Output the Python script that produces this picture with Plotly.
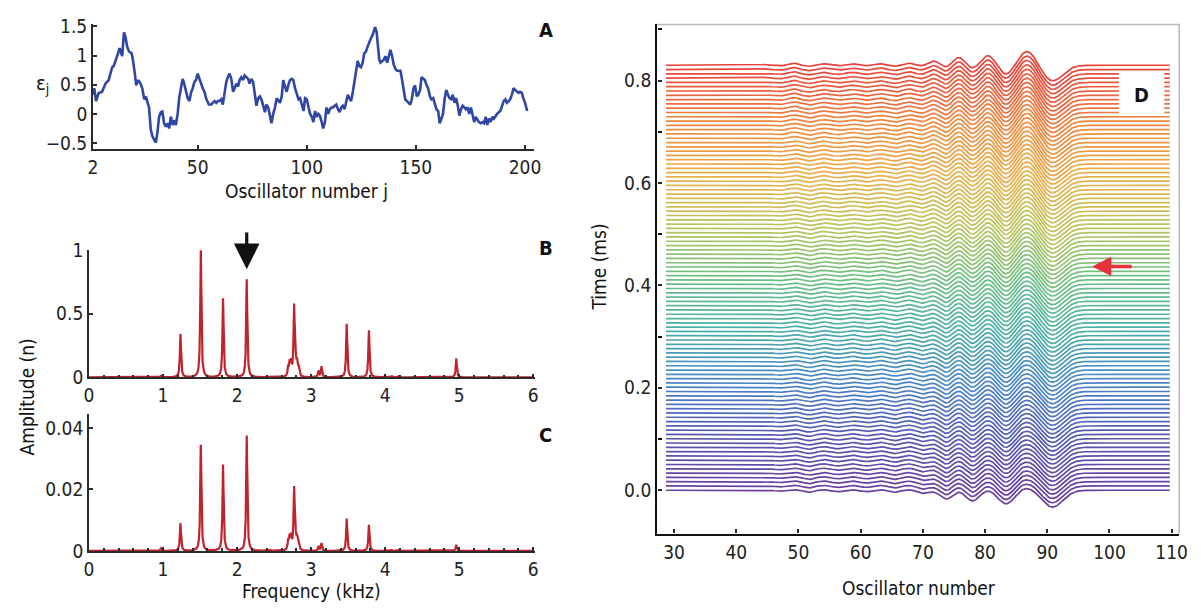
import numpy as np
import plotly.graph_objects as go
from plotly.colors import sample_colorscale

W, H = 1201, 615
FONT = "DejaVu Sans Condensed, Liberation Sans Narrow, Arial Narrow, Roboto, sans-serif"
AX = "#2b2b2b"

# ---------------- Panel A data: epsilon_j vs oscillator j ----------------
osc_j = [2.0, 2.6, 3.4, 4.6, 6.2, 7.7, 9.2, 10.0, 10.8, 11.5, 12.3, 13.1, 13.5, 14.2, 14.8, 15.4, 16.2, 16.9,
         17.7, 18.5, 19.7, 20.3, 21.2, 21.8, 22.8, 23.8, 24.6, 25.5, 26.2, 26.9, 27.7, 28.5, 29.2, 30.0, 30.8,
         31.5, 32.3, 33.1, 33.8, 34.6, 35.4, 36.2, 36.9, 37.7, 38.5, 39.2, 40.0, 40.8, 41.5, 42.3, 43.1, 43.8,
         44.6, 45.4, 46.2, 46.9, 47.7, 48.5, 49.2, 50.0, 50.8, 51.5, 52.3, 53.1, 53.8, 55.1, 56.2, 56.9, 57.7,
         58.5, 59.2, 60.0, 60.8, 61.5, 62.3, 63.1, 63.8, 64.6, 65.4, 66.2, 66.9, 67.7, 68.5, 69.2, 70.0, 70.8,
         71.5, 72.3, 73.1, 73.8, 74.6, 75.4, 76.2, 76.9, 77.7, 78.5, 79.2, 80.0, 80.8, 81.5, 82.3, 83.1, 83.8,
         84.6, 85.4, 86.2, 86.9, 87.7, 88.5, 89.2, 90.0, 90.8, 91.5, 92.3, 93.1, 93.8, 94.6, 95.4, 96.2, 96.9,
         97.7, 98.5, 99.2, 100.0, 100.8, 101.5, 102.3, 103.0, 103.8, 104.5, 105.3, 106.0, 106.8, 107.5, 108.3,
         109.0, 109.8, 110.5, 111.3, 112.0, 112.8, 113.5, 114.3, 115.0, 115.8, 116.5, 117.3, 118.0, 118.8,
         119.5, 120.3, 121.1, 121.8, 122.6, 123.3, 124.1, 124.8, 125.6, 126.3, 127.1, 127.8, 128.6, 129.3,
         130.1, 130.8, 131.3, 132.0, 132.6, 133.2, 133.8, 134.6, 135.3, 136.1, 136.8, 137.6, 138.3, 139.1,
         139.8, 140.6, 141.4, 142.1, 142.9, 143.6, 144.4, 145.1, 145.9, 146.6, 147.4, 148.1, 148.9, 149.6,
         150.4, 151.1, 151.9, 152.6, 153.4, 154.1, 154.9, 155.6, 156.4, 157.1, 157.9, 158.6, 159.4, 160.2,
         160.9, 161.7, 162.4, 163.2, 163.9, 164.7, 165.4, 166.2, 166.9, 167.7, 168.4, 169.2, 169.9, 170.7,
         171.4, 172.2, 172.9, 173.7, 174.4, 175.2, 175.9, 176.7, 177.4, 178.2, 178.9, 179.7, 180.5, 181.2,
         182.0, 182.7, 183.5, 184.2, 185.0, 185.7, 186.5, 187.2, 188.0, 188.7, 189.5, 190.2, 191.0, 191.7,
         192.5, 193.2, 194.0, 194.7, 195.5, 196.2, 197.0, 197.7, 198.5, 199.2, 200.0, 201.0]
eps_j = [0.33, 0.44, 0.22, 0.36, 0.38, 0.52, 0.58, 0.69, 0.80, 0.82, 0.91, 0.96, 1.04, 1.13, 1.04, 0.99, 1.40, 1.32,
         1.15, 1.07, 1.04, 0.93, 0.69, 0.49, 0.58, 0.52, 0.44, 0.25, 0.30, 0.22, 0.11, -0.27, -0.38, -0.44, -0.49,
         -0.33, -0.05, 0.03, 0.04, -0.16, -0.22, -0.16, -0.25, -0.05, -0.19, -0.11, -0.19, 0.0, 0.27, 0.44, 0.60, 0.52,
         0.38, 0.27, 0.22, 0.36, 0.44, 0.55, 0.58, 0.69, 0.60, 0.52, 0.44, 0.38, 0.27, 0.16, 0.16, 0.19, 0.22,
         0.19, 0.22, 0.22, 0.25, 0.16, 0.36, 0.55, 0.63, 0.69, 0.60, 0.38, 0.44, 0.52, 0.47, 0.58, 0.63, 0.58,
         0.66, 0.63, 0.60, 0.52, 0.60, 0.55, 0.33, 0.14, 0.27, 0.30, 0.25, 0.11, 0.03, 0.16, 0.11, -0.03, -0.16,
         0.0, 0.11, 0.27, 0.22, 0.19, 0.30, 0.58, 0.47, 0.38, 0.49, 0.58, 0.60, 0.58, 0.44, 0.36, 0.25, 0.27,
         0.14, 0.05, 0.27, 0.25, 0.11, 0.0, -0.05, -0.14, 0.05, -0.05, 0.0, -0.03, -0.14, -0.25, -0.14,
         0.11, 0.0, 0.08, 0.11, 0.11, 0.14, 0.16, 0.08, 0.03, 0.11, 0.14, 0.08, 0.22, 0.33,
         0.27, 0.22, 0.38, 0.52, 0.74, 0.91, 0.82, 0.80, 0.88, 1.04, 1.07, 1.15, 1.24, 1.29,
         1.35, 1.43, 1.49, 1.40, 1.15, 0.93, 0.88, 0.91, 0.93, 0.99, 0.88, 0.99, 1.10, 0.99,
         0.85, 0.77, 0.74, 0.74, 0.74, 0.60, 0.41, 0.25, 0.22, 0.19, 0.16, 0.25, 0.44, 0.49,
         0.30, 0.33, 0.41, 0.63, 0.60, 0.58, 0.49, 0.44, 0.30, 0.25, 0.27, 0.16, 0.08, 0.05,
         -0.16, -0.08, 0.0, 0.27, 0.41, 0.33, 0.27, 0.25, 0.33, 0.19, 0.27, 0.14, -0.03, 0.08,
         0.14, 0.11, 0.08, 0.11, 0.0, 0.11, -0.03, -0.14, -0.05, -0.11, -0.14, -0.16, -0.14, -0.16,
         -0.05, -0.19, -0.08, -0.14, -0.05, -0.08, -0.03, 0.0, 0.03, 0.05, 0.14, 0.22, 0.25, 0.19,
         0.22, 0.25, 0.33, 0.44, 0.41, 0.38, 0.36, 0.38, 0.36, 0.27, 0.19, 0.05]
a_xticks = [2, 50, 100, 150, 200]
a_yticks = [-0.5, 0, 0.5, 1, 1.5]
a_yticktext = ["\u22120.5", "0", "0.5", "1", "1.5"]

# ---------------- Panels B/C data: spectral peaks ----------------
peak_khz = [0.97, 1.235, 1.51, 1.81, 2.13, 2.45, 2.69, 2.71, 2.73, 2.77, 2.79, 2.81, 2.83, 3.10, 3.14, 3.48, 3.78, 4.09, 4.18, 4.96]
peak_amp_b = [0.012, 0.34, 1.0, 0.62, 0.77, 0.006, 0.07, 0.10, 0.10, 0.55, 0.10, 0.10, 0.06, 0.05, 0.085, 0.42, 0.37, 0.01, 0.01, 0.15]
peak_amp_c = [0.0008, 0.009, 0.0345, 0.028, 0.0375, 0.0003, 0.003, 0.004, 0.004, 0.020, 0.0035, 0.0035, 0.002, 0.0015, 0.0025, 0.0105, 0.0085, 0.0003, 0.0003, 0.002]
peak_halfwidth_khz = 0.009
b_yticks = [0, 0.5, 1]
c_yticks = [0, 0.02, 0.04]
bc_xticks = [0, 1, 2, 3, 4, 5, 6]

# ---------------- Panel D data: waterfall of displacement profiles ----------------
# profile features (oscillator position, width, amplitude on first and last time line, in ms units)
feat_x = [44.5, 46.9, 49.3, 51.7, 54.0, 56.3, 58.6, 60.9, 63.2, 65.5, 67.8, 70.0,
          71.8, 73.8, 75.8, 78.0, 80.5, 83.4, 86.8, 90.8]
feat_w = [0.7, 0.7, 0.7, 0.75, 0.75, 0.75, 0.75, 0.75, 0.8, 0.8, 0.85, 0.85,
          0.95, 1.0, 1.05, 1.1, 1.2, 1.3, 1.5, 1.7]
feat_amp_t0 = [0.0005, -0.002, 0.001, -0.004, 0.001, -0.003, 0.001, -0.003, 0.001, -0.004, 0.001, -0.006,
               -0.001, -0.017, 0.001, -0.021, 0.002, -0.027, 0.006, -0.033]
feat_amp_t1 = [0.0015, -0.001, 0.004, -0.002, 0.003, -0.001, 0.003, -0.001, 0.003, -0.002, 0.004, -0.002,
               0.009, -0.006, 0.017, -0.009, 0.021, -0.020, 0.029, -0.031]
n_lines = 100
t_first, t_last = 0.0, 0.83
line_x_start, line_x_end = 28.7, 109.7
d_xticks = [30, 40, 50, 60, 70, 80, 90, 100, 110]
d_yticks = [0.0, 0.2, 0.4, 0.6, 0.8]
d_colors = [[0.0, "#6b3d9f"], [0.13, "#5458b2"], [0.26, "#4985c8"], [0.38, "#4aaea6"],
            [0.5, "#6cbf82"], [0.62, "#b9c45c"], [0.74, "#e9b04a"], [0.86, "#f0883e"], [1.0, "#e8403a"]]


def dom_x(x0, x1):
    return [x0 / W, x1 / W]


def dom_y(top, bottom):
    return [1 - bottom / H, 1 - top / H]


fig = go.Figure()

# Panel A
fig.add_trace(go.Scatter(x=osc_j, y=eps_j, mode="lines", line=dict(color="#2f46a3", width=2.6),
                         xaxis="x", yaxis="y", showlegend=False, hoverinfo="skip"))

# Panels B and C
f = np.linspace(0, 6, 6001)


def spectrum(amps):
    s = np.zeros_like(f)
    for f0, a in zip(peak_khz, amps):
        s += a / (1 + ((f - f0) / peak_halfwidth_khz) ** 2)
    return s


fig.add_trace(go.Scatter(x=f, y=spectrum(peak_amp_b), mode="lines", line=dict(color="#c0232c", width=2.2),
                         xaxis="x2", yaxis="y2", showlegend=False, hoverinfo="skip"))
fig.add_trace(go.Scatter(x=f, y=spectrum(peak_amp_c), mode="lines", line=dict(color="#c0232c", width=2.2),
                         xaxis="x3", yaxis="y3", showlegend=False, hoverinfo="skip"))

# Panel D
xs = np.linspace(line_x_start, line_x_end, 811)
times = np.linspace(t_first, t_last, n_lines)
cols = sample_colorscale(d_colors, list((times - t_first) / (t_last - t_first)))
for k, t in enumerate(times):
    frac = (t - t_first) / (t_last - t_first)
    y = np.full_like(xs, t)
    for c, w, a0, a1 in zip(feat_x, feat_w, feat_amp_t0, feat_amp_t1):
        a = a0 + (a1 - a0) * frac
        y += a * np.exp(-0.5 * ((xs - c) / w) ** 2)
    fig.add_trace(go.Scatter(x=xs, y=y, mode="lines", line=dict(color=cols[k], width=1.7),
                             xaxis="x4", yaxis="y4", showlegend=False, hoverinfo="skip"))

tickfont = dict(family=FONT, size=19, color="#222")
common = dict(showgrid=False, zeroline=False, showline=True, linecolor=AX, linewidth=1.8,
              ticks="inside", tickcolor=AX, ticklen=4, tickwidth=1.5, tickfont=tickfont)

A_box = (89, 535, 13, 143)
B_box = (85, 536, 248, 380)
C_box = (85, 536, 418, 560)
D_box = (660, 1188, 14, 542)

fig.update_layout(
    width=W, height=H, margin=dict(l=0, r=0, t=0, b=0),
    paper_bgcolor="white", plot_bgcolor="rgba(0,0,0,0)",
    xaxis=dict(domain=dom_x(A_box[0], A_box[1]), range=[2, 204], tickvals=a_xticks, anchor="y", **common),
    yaxis=dict(domain=dom_y(A_box[2], A_box[3]), range=[-0.6, 1.55], tickvals=a_yticks,
               ticktext=a_yticktext, anchor="x", **common),
    xaxis2=dict(domain=dom_x(B_box[0], B_box[1]), range=[0, 6.02], tickvals=bc_xticks, anchor="y2",
                minor=dict(dtick=0.2, ticks="inside", ticklen=3, tickcolor=AX), **common),
    yaxis2=dict(domain=dom_y(B_box[2], B_box[3]), range=[0, 1.0], tickvals=b_yticks,
                ticktext=["0", "0.5", "1"], anchor="x2", **common),
    xaxis3=dict(domain=dom_x(C_box[0], C_box[1]), range=[0, 6.02], tickvals=bc_xticks, anchor="y3",
                minor=dict(dtick=0.2, ticks="inside", ticklen=3, tickcolor=AX), **common),
    yaxis3=dict(domain=dom_y(C_box[2], C_box[3]), range=[0, 0.0445], tickvals=c_yticks,
                ticktext=["0", "0.02", "0.04"], anchor="x3", **common),
    xaxis4=dict(domain=dom_x(D_box[0], D_box[1]), range=[27.3, 111.2], tickvals=d_xticks, anchor="y4",
                **{**common, "linecolor": "#111", "linewidth": 2.4}),
    yaxis4=dict(domain=dom_y(D_box[2], D_box[3]), range=[-0.0847, 0.9096], tickvals=d_yticks,
                ticktext=["0.0", "0.2", "0.4", "0.6", "0.8"], anchor="x4",
                minor=dict(dtick=0.1, ticks="inside", ticklen=4, tickcolor="#111"),
                **{**common, "linecolor": "#111", "linewidth": 2.4}),
)

# gray top/right frame of panel D
fig.add_shape(type="line", xref="paper", yref="paper", x0=D_box[0] / W, x1=D_box[1] / W,
              y0=1 - D_box[2] / H, y1=1 - D_box[2] / H, line=dict(color="#b8b8b8", width=1.5))
fig.add_shape(type="line", xref="paper", yref="paper", x0=D_box[1] / W, x1=D_box[1] / W,
              y0=1 - D_box[3] / H, y1=1 - D_box[2] / H, line=dict(color="#b8b8b8", width=1.5))
# white box behind "D"
fig.add_shape(type="rect", xref="paper", yref="paper", x0=1127 / W, x1=1173 / W,
              y0=1 - 109 / H, y1=1 - 64 / H, fillcolor="white", line=dict(width=0), layer="above")


def ann(text, x, y, size=19, bold=False, angle=0):
    fig.add_annotation(text=f"<b>{text}</b>" if bold else text, x=x / W, y=1 - y / H, xref="paper",
                       yref="paper", showarrow=False, textangle=angle, xanchor="center", yanchor="middle",
                       font=dict(family=FONT, size=size, color="#111"))


ann("\u03b5<sub>j</sub>", 38, 76, size=20)
ann("Oscillator number j", 305, 187)
ann("Amplitude (n)", 22, 400, angle=-90)
ann("Frequency (kHz)", 310, 601)
ann("Time (ms)", 601, 265, angle=-90)
ann("Oscillator number", 925, 598)
ann("A", 547, 20, size=20, bold=True)
ann("B", 547, 246, size=20, bold=True)
ann("C", 547, 440, size=20, bold=True)
ann("D", 1150, 87, size=20, bold=True)

# black arrow in B, above the 2.13 kHz peak
fig.add_annotation(x=2.13, y=0.85, ax=2.13, ay=1.15, xref="x2", yref="y2", axref="x2", ayref="y2",
                   showarrow=True, arrowhead=2, arrowsize=1.6, arrowwidth=3.2, arrowcolor="#111", text="")
# red arrow in D
fig.add_annotation(x=97.2, y=0.437, ax=103.8, ay=0.437, xref="x4", yref="y4", axref="x4", ayref="y4",
                   showarrow=True, arrowhead=2, arrowsize=1.1, arrowwidth=3.5, arrowcolor="#e8303a", text="")

fig.write_html("out.html")
